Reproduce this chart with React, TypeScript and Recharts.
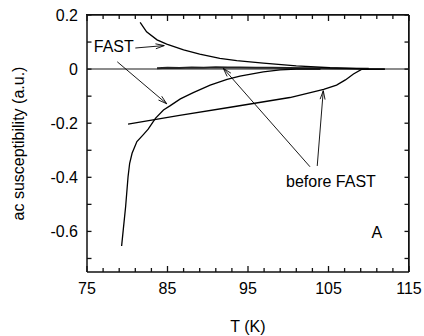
import React from 'react';
import { LineChart, Line, XAxis, YAxis, ReferenceLine, ReferenceDot } from 'recharts';

// FAST measurement, upper (positive) branch
const fastUpperT = [81.6, 82.4, 83.7, 84.9, 87.0, 89.0, 91.5, 93.6, 96.9, 101.0, 105.2, 109.3, 112];
const fastUpperV = [0.173, 0.138, 0.108, 0.092, 0.071, 0.055, 0.040, 0.031, 0.022, 0.012, 0.005, 0.001, 0];

// FAST measurement, lower (negative) branch
const fastLowerT = [79.3, 79.5, 79.8, 80.1, 80.3, 80.6, 81.2, 82.0, 82.6, 83.5, 84.5, 85.3, 86.6, 88.2, 90.3, 92.4, 94.0, 96.9, 99.0, 101.0, 104];
const fastLowerV = [-0.654, -0.595, -0.508, -0.398, -0.348, -0.311, -0.268, -0.242, -0.222, -0.182, -0.151, -0.136, -0.110, -0.087, -0.059, -0.038, -0.026, -0.010, -0.003, 0, 0];

// before FAST, lower branch
const beforeLowerT = [80.1, 86.5, 92.8, 100.2, 104.4, 106.0, 107.1, 108.1, 109.1, 112];
const beforeLowerV = [-0.203, -0.171, -0.141, -0.105, -0.075, -0.059, -0.040, -0.018, -0.001, 0];

// before FAST, near-zero branch
const beforeZeroT = [83.7, 85.0, 86.5, 88.0, 89.5, 91.0, 92.5, 94.0, 96.0, 98.0, 100.0, 103.0, 106.0, 110.0];
const beforeZeroV = [0.003, 0.005, 0.004, 0.006, 0.005, 0.007, 0.006, 0.006, 0.005, 0.005, 0.004, 0.003, 0.002, 0.001];

const xTicks = [75, 77, 79, 81, 83, 85, 87, 89, 91, 93, 95, 97, 99, 101, 103, 105, 107, 109, 111, 113, 115];
const xLabeled = [75, 85, 95, 105, 115];
const yTicks = [-0.7, -0.6, -0.5, -0.4, -0.3, -0.2, -0.1, 0, 0.1, 0.2];
const yLabeled = [-0.6, -0.4, -0.2, 0, 0.2];
const xDomain = [75, 115];
const yDomain = [-0.75, 0.2];

const xLabel = 'T (K)';
const yLabel = 'ac susceptibility (a.u.)';

// annotation texts (data coordinates)
const texts = [
  { text: 'FAST', t: 78.33, v: 0.084 },
  { text: 'before FAST', t: 105.3, v: -0.415 },
  { text: 'A', t: 111.0, v: -0.602 },
];
// arrows: from -> to (data coordinates)
const arrows = [
  { t1: 81.0, v1: 0.078, t2: 84.6, v2: 0.087 },
  { t1: 78.76, v1: 0.027, t2: 84.9, v2: -0.128 },
  { t1: 102.7, v1: -0.361, t2: 91.93, v2: 0.003 },
  { t1: 103.6, v1: -0.358, t2: 104.35, v2: -0.08 },
];

const FONT = '"Liberation Sans", Arial, Helvetica, sans-serif';

// layout
const W = 424;
const H = 336;
const X_AXIS_H = 64;
const Y_AXIS_W = 87;
const MT = 15;
const MR = 15;
const PLOT_L = Y_AXIS_W;
const PLOT_T = MT;
const PLOT_W = W - MR - Y_AXIS_W;
const PLOT_H = H - MT - X_AXIS_H;

const pts = (ts: number[], vs: number[]) => ts.map((t, i) => ({ t, v: vs[i] }));
const isYLab = (v: number) => yLabeled.some((a) => Math.abs(a - v) < 1e-6);

const BottomTick = (p: any) => {
  const { x, y, payload } = p;
  const v = payload.value;
  const major = xLabeled.includes(v);
  const len = major ? 6 : 4;
  const top = y - PLOT_H;
  return (
    <g>
      <line x1={x} y1={y} x2={x} y2={y - len} stroke="#111" strokeWidth={1.3} />
      <line x1={x} y1={top} x2={x} y2={top + len} stroke="#111" strokeWidth={1.3} />
      {major ? (
        <text x={x} y={y + 22} textAnchor="middle" fontSize={16} fontFamily={FONT} fill="#000">{v}</text>
      ) : null}
    </g>
  );
};
const LeftTick = (p: any) => {
  const { x, y, payload } = p;
  const v = payload.value;
  const right = x + PLOT_W;
  return (
    <g>
      <line x1={x} y1={y} x2={x + 4.5} y2={y} stroke="#111" strokeWidth={1.3} />
      <line x1={right} y1={y} x2={right - 4.5} y2={y} stroke="#111" strokeWidth={1.3} />
      {isYLab(v) ? (
        <text x={x - 9} y={y + 5.7} textAnchor="end" fontSize={16} fontFamily={FONT} fill="#000">
          {Math.abs(v) < 1e-9 ? '0' : v.toFixed(1)}
        </text>
      ) : null}
    </g>
  );
};

const ArrowShape = (p: any) => {
  const { x1, y1, x2, y2 } = p;
  if ([x1, y1, x2, y2].some((n) => typeof n !== 'number' || isNaN(n))) return null;
  const ang = Math.atan2(y2 - y1, x2 - x1);
  const L = 9;
  const a = 0.28;
  const ax = x2 - L * Math.cos(ang - a);
  const ay = y2 - L * Math.sin(ang - a);
  const bx = x2 - L * Math.cos(ang + a);
  const by = y2 - L * Math.sin(ang + a);
  return (
    <g>
      <line x1={x1} y1={y1} x2={x2} y2={y2} stroke="#000" strokeWidth={0.9} />
      <path d={`M${ax},${ay} L${x2},${y2} L${bx},${by}`} fill="none" stroke="#000" strokeWidth={0.9} />
    </g>
  );
};

export default function App() {
  return (
    <div style={{ position: 'absolute', left: 0, top: 0, width: W, height: H }}>
      <LineChart width={W} height={H} margin={{ top: MT, right: MR, bottom: 0, left: 0 }}>
        <XAxis
          xAxisId="b"
          dataKey="t"
          type="number"
          domain={xDomain}
          ticks={xTicks}
          interval={0}
          height={X_AXIS_H}
          tickSize={0}
          tickMargin={0}
          tickLine={false}
          tick={<BottomTick />}
          axisLine={{ stroke: '#111', strokeWidth: 1.5 }}
          allowDataOverflow
          label={{
            value: xLabel,
            content: (lp: any) => {
              const vb = lp.viewBox || {};
              return (
                <text x={vb.x + vb.width / 2} y={vb.y + 54} textAnchor="middle" dominantBaseline="central" fontSize={16} fontFamily={FONT} fill="#000">
                  {xLabel}
                </text>
              );
            },
          }}
        />
        <YAxis
          yAxisId="l"
          dataKey="v"
          type="number"
          domain={yDomain}
          ticks={yTicks}
          interval={0}
          width={Y_AXIS_W}
          tickSize={0}
          tickMargin={0}
          tickLine={false}
          tick={<LeftTick />}
          axisLine={{ stroke: '#111', strokeWidth: 1.5 }}
          allowDataOverflow
          label={{
            value: yLabel,
            content: (lp: any) => {
              const vb = lp.viewBox || {};
              const cx = vb.x + 18;
              const cy = vb.y + vb.height / 2;
              return (
                <text x={cx} y={cy} transform={`rotate(-90, ${cx}, ${cy})`} textAnchor="middle" dominantBaseline="central" fontSize={16} fontFamily={FONT} fill="#000">
                  {yLabel}
                </text>
              );
            },
          }}
        />
        <ReferenceLine xAxisId="b" yAxisId="l" y={yDomain[1]} stroke="#111" strokeWidth={1.5} ifOverflow="visible" />
        <ReferenceLine xAxisId="b" yAxisId="l" x={xDomain[1]} stroke="#111" strokeWidth={1.5} ifOverflow="visible" />
        <ReferenceLine xAxisId="b" yAxisId="l" y={0} stroke="#8c8c8c" strokeWidth={2} />
        <Line xAxisId="b" yAxisId="l" data={pts(beforeZeroT, beforeZeroV)} dataKey="v" stroke="#222" strokeWidth={2} dot={false} isAnimationActive={false} />
        <Line xAxisId="b" yAxisId="l" data={pts(fastUpperT, fastUpperV)} dataKey="v" stroke="#000" strokeWidth={1.3} dot={false} isAnimationActive={false} />
        <Line xAxisId="b" yAxisId="l" data={pts(fastLowerT, fastLowerV)} dataKey="v" stroke="#000" strokeWidth={1.3} dot={false} isAnimationActive={false} />
        <Line xAxisId="b" yAxisId="l" data={pts(beforeLowerT, beforeLowerV)} dataKey="v" stroke="#000" strokeWidth={1.3} dot={false} isAnimationActive={false} />
        {arrows.map((a, i) => (
          <ReferenceLine
            key={'a' + i}
            xAxisId="b"
            yAxisId="l"
            segment={[{ x: a.t1, y: a.v1 }, { x: a.t2, y: a.v2 }]}
            shape={ArrowShape}
          />
        ))}
        {texts.map((tx, i) => (
          <ReferenceDot
            key={'t' + i}
            xAxisId="b"
            yAxisId="l"
            x={tx.t}
            y={tx.v}
            r={1}
            fill="none"
            stroke="none"
            label={{ value: tx.text, position: 'center', fontSize: 16, fontFamily: FONT, fill: '#000' }}
          />
        ))}
      </LineChart>
      <div
        style={{
          position: 'absolute',
          left: PLOT_L - 0.75,
          top: PLOT_T - 0.75,
          width: PLOT_W,
          height: PLOT_H,
          borderTop: '1.5px solid #111',
          borderRight: '1.5px solid #111',
          pointerEvents: 'none',
        }}
      />
    </div>
  );
}
